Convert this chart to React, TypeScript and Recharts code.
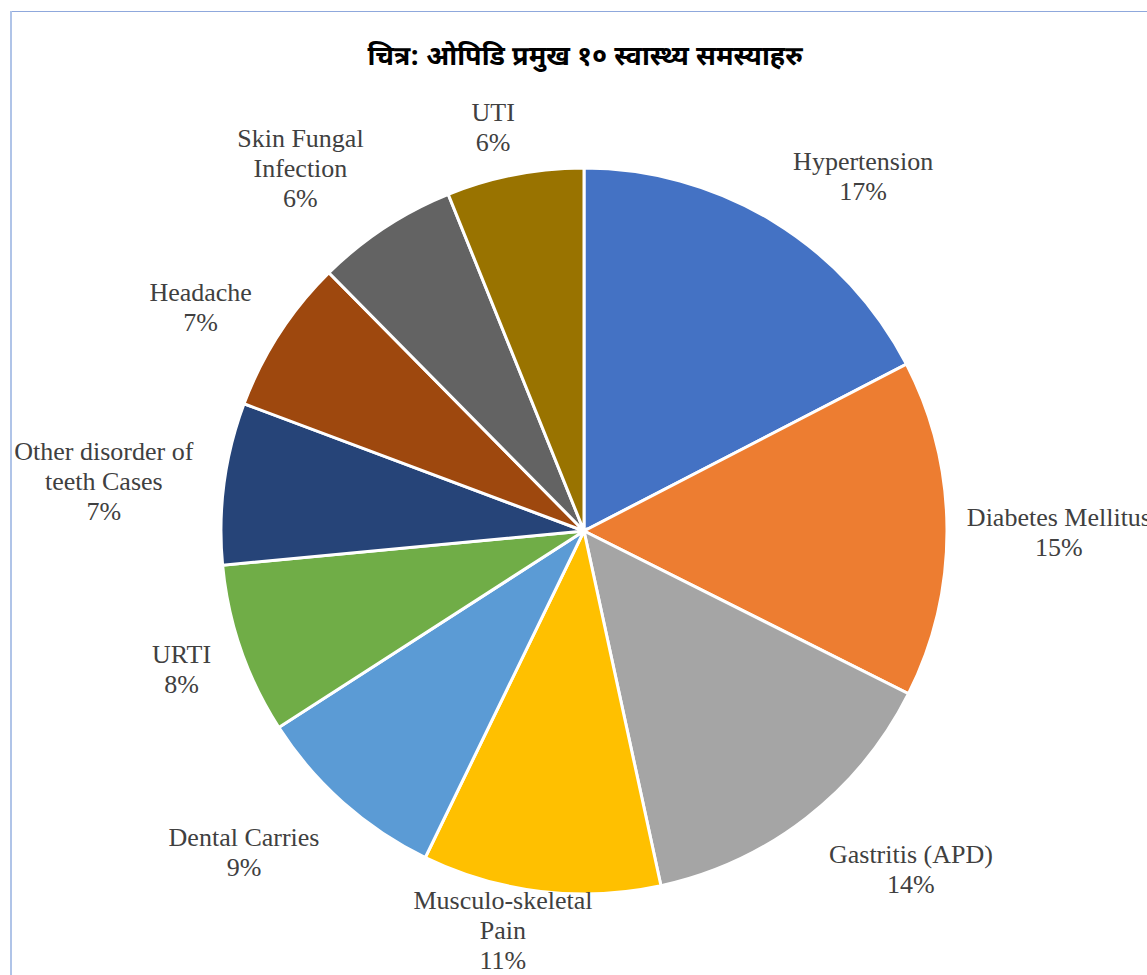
import React from 'react';
import { PieChart, Pie, Cell } from 'recharts';

const categories = [
  'Hypertension',
  'Diabetes Mellitus',
  'Gastritis (APD)',
  'Musculo-skeletal Pain',
  'Dental Carries',
  'URTI',
  'Other disorder of teeth Cases',
  'Headache',
  'Skin Fungal Infection',
  'UTI',
];
const shares = [17.4, 15.0, 14.2, 10.6, 8.7, 7.6, 7.2, 6.9, 6.3, 6.1];
const colors = [
  '#4472C4', '#ED7D31', '#A5A5A5', '#FFC000', '#5B9BD5',
  '#70AD47', '#264478', '#9E480E', '#636363', '#997300',
];
const title = 'चित्र: ओपिडि प्रमुख १० स्वास्थ्य समस्याहरु';

const data = categories.map((name, i) => ({ name, value: shares[i] }));

const W = 1147;
const H = 975;
const FONT_SIZE = 26;
const LINE_H = 30;
const LABEL_FONT = "'Liberation Serif', 'Times New Roman', serif";

let ctx: CanvasRenderingContext2D | null = null;
function measure(t: string): number {
  if (!ctx) {
    const c = document.createElement('canvas');
    ctx = c.getContext('2d');
  }
  if (!ctx) return t.length * FONT_SIZE * 0.5;
  ctx.font = `${FONT_SIZE}px ${LABEL_FONT}`;
  return ctx.measureText(t).width;
}

function wrap(text: string, maxW: number): string[] {
  const words = text.split(' ');
  const lines: string[] = [];
  let cur = '';
  for (const w of words) {
    const tryLine = cur ? cur + ' ' + w : w;
    if (cur && measure(tryLine) > maxW) {
      lines.push(cur);
      cur = w;
    } else {
      cur = tryLine;
    }
  }
  if (cur) lines.push(cur);
  return lines;
}

const clamp = (v: number, lo: number, hi: number) => Math.max(lo, Math.min(hi, v));

const renderLabel = (props: any) => {
  const { cx, cy, midAngle, outerRadius, name, percent } = props;
  const rad = (-midAngle * Math.PI) / 180;
  const dx = Math.cos(rad);
  const dy = Math.sin(rad);
  const r = outerRadius + 22;
  const ax = cx + r * dx;
  const ay = cy + r * dy;
  const lines = [...wrap(name, 195), `${Math.round(percent * 100)}%`];
  const w = Math.max(...lines.map(measure));
  const h = lines.length * LINE_H;
  let centerX = ax + w * clamp(1.5 * dx, -0.5, 0.5) + 9 * clamp(3 * dx, -1, 1);
  if (centerX + w / 2 > W + 4) centerX = W + 4 - w / 2;
  const fy = 0.75 * Math.sign(dy) * Math.pow(Math.abs(dy), 1.5);
  let centerY = ay + h * clamp(fy, -0.5, 0.5) + 4;
  if (centerY + h / 2 > H) centerY = H - h / 2;
  const top = centerY - h / 2;
  return (
    <text
      x={centerX}
      y={top}
      textAnchor="middle"
      fill="#404040"
      fontSize={FONT_SIZE}
      fontFamily={LABEL_FONT}
    >
      {lines.map((l, i) => (
        <tspan key={i} x={centerX} y={top + i * LINE_H + LINE_H / 2} dominantBaseline="central">
          {l}
        </tspan>
      ))}
    </text>
  );
};

export default function App() {
  return (
    <div
      style={{
        position: 'absolute',
        left: 0,
        top: 0,
        width: W,
        height: H,
        overflow: 'hidden',
        background: '#ffffff',
      }}
    >
      <div style={{ position: 'absolute', left: 10, top: 11, width: W - 10, height: 1, background: '#8FA8DC' }} />
      <div style={{ position: 'absolute', left: 10, top: 11, width: 2, height: H - 11, background: '#B0C4E8' }} />
      <div
        style={{
          position: 'absolute',
          left: 0,
          top: 40,
          width: 1170,
          textAlign: 'center',
          fontFamily: "'Noto Sans Devanagari', 'Noto Sans', sans-serif",
          fontWeight: 700,
          fontSize: 27,
          color: '#000',
          lineHeight: '38px',
        }}
      >
        {title}
      </div>
      <div style={{ position: 'absolute', left: 0, top: 0 }}>
        <PieChart width={W} height={H} margin={{ top: 0, right: 0, bottom: 0, left: 0 }}>
          <Pie
            data={data}
            dataKey="value"
            nameKey="name"
            cx={584}
            cy={531}
            outerRadius={363}
            startAngle={90}
            endAngle={-270}
            stroke="#ffffff"
            strokeWidth={3}
            labelLine={false}
            label={renderLabel}
            isAnimationActive={false}
          >
            {data.map((d, i) => (
              <Cell key={d.name} fill={colors[i]} />
            ))}
          </Pie>
        </PieChart>
      </div>
    </div>
  );
}
